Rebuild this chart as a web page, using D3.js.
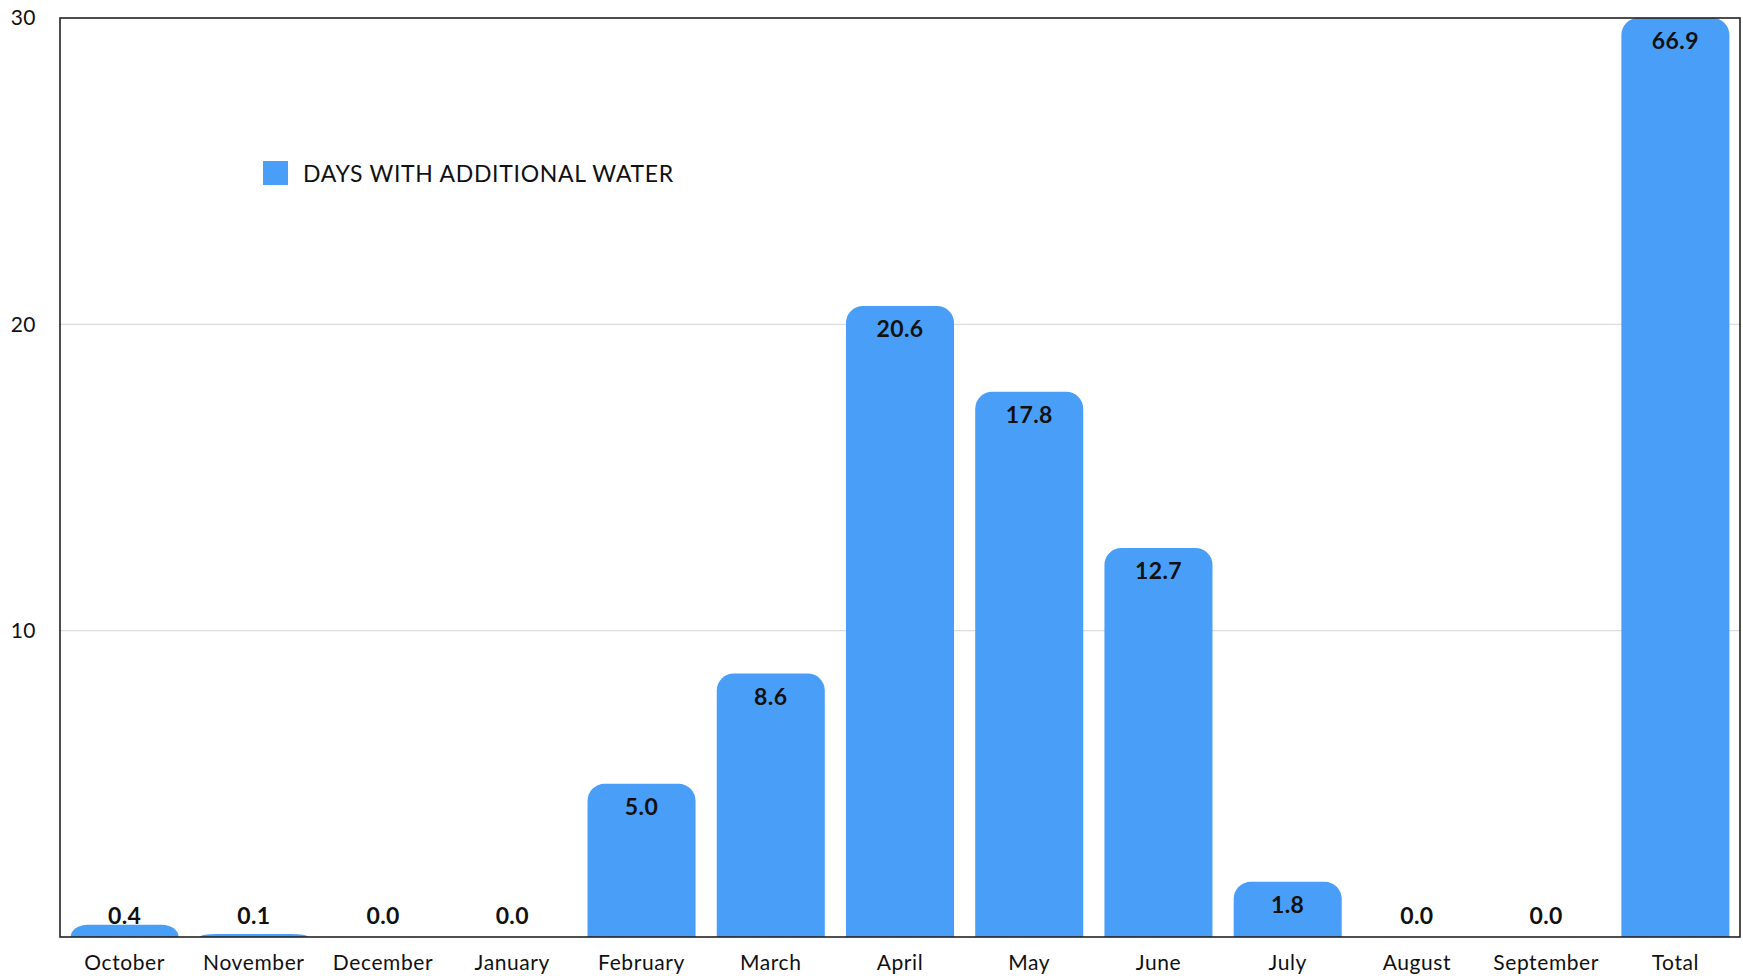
<!DOCTYPE html>
<html>
<head>
<meta charset="utf-8">
<script src="https://cdn.jsdelivr.net/npm/d3@7"></script>
<style>
  html, body { margin: 0; padding: 0; background: #fff; }
  svg { display: block; font-family: Lato, "Noto Sans", sans-serif; }
</style>
</head>
<body>
<svg id="chart" width="1743" height="979"></svg>
<script>
// Monthly days with additional water, plus the season total
const categories = ["October", "November", "December", "January", "February", "March",
  "April", "May", "June", "July", "August", "September", "Total"];
const values = [0.4, 0.1, 0.0, 0.0, 5.0, 8.6, 20.6, 17.8, 12.7, 1.8, 0.0, 0.0, 66.9];
const yTicks = [10, 20, 30];
const seriesName = "DAYS WITH ADDITIONAL WATER";

const W = 1743, H = 979;
const margin = { top: 18, right: 3, bottom: 42, left: 60 };
const barColor = "#499ff7";

const svg = d3.select("#chart");
const plotW = W - margin.left - margin.right;
const plotH = H - margin.top - margin.bottom;

const x = d3.scaleBand().domain(categories).range([margin.left, margin.left + plotW])
  .paddingInner(0.164).paddingOuter(0.082);
const y = d3.scaleLinear().domain([0, 30]).range([margin.top + plotH, margin.top]).clamp(true);

// Horizontal gridlines
svg.append("g")
  .selectAll("line")
  .data(yTicks.filter(t => t < 30))
  .join("line")
  .attr("x1", margin.left).attr("x2", margin.left + plotW)
  .attr("y1", d => y(d)).attr("y2", d => y(d))
  .attr("stroke", "#dcdcdc").attr("stroke-width", 1.2);

// Bar path with rounded (elliptical when short) top corners only
function roundedTop(x0, y0, w, h, r) {
  if (h <= 0) return "";
  const rx = Math.min(r, w / 2);
  const ry = Math.min(r, h);
  return `M${x0},${y0 + h}` +
    `V${y0 + ry}` +
    `A${rx},${ry} 0 0 1 ${x0 + rx},${y0}` +
    `H${x0 + w - rx}` +
    `A${rx},${ry} 0 0 1 ${x0 + w},${y0 + ry}` +
    `V${y0 + h}Z`;
}

const base = y(0);
svg.append("g")
  .selectAll("path")
  .data(categories.map((c, i) => ({ c, v: values[i] })))
  .join("path")
  .attr("d", d => roundedTop(x(d.c), y(d.v), x.bandwidth(), base - y(d.v), 17))
  .attr("fill", barColor);

// Value labels: inside the bar near its top, or just above the axis for short bars
svg.append("g")
  .selectAll("text")
  .data(categories.map((c, i) => ({ c, v: values[i] })))
  .join("text")
  .attr("x", d => x(d.c) + x.bandwidth() / 2)
  .attr("y", d => (base - y(d.v) > 40 ? y(d.v) + 31 : base - 13))
  .attr("text-anchor", "middle")
  .attr("font-size", 23)
  .attr("font-weight", 700)
  .attr("letter-spacing", 0.4)
  .attr("fill", "#111")
  .text(d => d.v.toFixed(1));

// Plot frame
svg.append("rect")
  .attr("x", margin.left).attr("y", margin.top)
  .attr("width", plotW).attr("height", plotH)
  .attr("fill", "none").attr("stroke", "#222").attr("stroke-width", 1.6);

// Y axis tick labels
const yAxis = d3.axisLeft(y).tickValues(yTicks).tickSize(0).tickPadding(24);
const gy = svg.append("g").attr("transform", `translate(${margin.left},0)`).call(yAxis);
gy.select(".domain").remove();
gy.selectAll("text").attr("font-size", 21).attr("fill", "#111")
  .attr("letter-spacing", 0.5)
  .attr("font-family", "Lato, 'Noto Sans', sans-serif");

// X axis category labels
const xAxis = d3.axisBottom(x).tickSize(0).tickPadding(18);
const gx = svg.append("g").attr("transform", `translate(0,${base})`).call(xAxis);
gx.select(".domain").remove();
gx.selectAll("text").attr("font-size", 21).attr("fill", "#111")
  .attr("letter-spacing", 0.6)
  .attr("font-family", "Lato, 'Noto Sans', sans-serif");

// Legend
const lg = svg.append("g").attr("transform", "translate(263,161)");
lg.append("rect").attr("width", 25).attr("height", 24).attr("fill", barColor);
lg.append("text").attr("x", 40).attr("y", 21).attr("font-size", 23).attr("fill", "#111")
  .attr("letter-spacing", 0.7)
  .text(seriesName);
</script>
</body>
</html>
